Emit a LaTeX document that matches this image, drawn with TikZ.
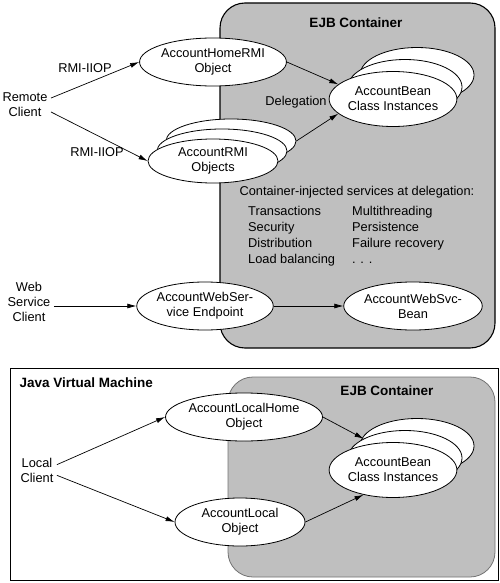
\documentclass[tikz,border=0pt]{standalone}
\usepackage{fontspec}
\setmainfont{Liberation Sans}
\usetikzlibrary{shapes.geometric, arrows.meta, positioning}

\begin{document}
\begin{tikzpicture}[x=1pt, y=-1pt, font=\fontsize{12.8}{15}\selectfont,
          objell/.style={ellipse, draw=black, thick, fill=white, minimum width=130pt, minimum height=48pt, inner sep=0pt, align=center},
          beanell/.style={objell, minimum width=114pt, minimum height=55pt},
          container/.style={draw=black, line width=1.1pt, fill=black!25, rounded corners=25pt},
          arrow/.style={-{Latex[length=9pt,width=5pt]}, line width=0.7pt, color=black}]

        \useasboundingbox (0,0) rectangle (500,583);

        % remote and web service side
        \draw [container] (220,3) rectangle (495,348);
        \node [font=\fontsize{13.5}{15}\selectfont\bfseries] (ejbtop) at (356,23) {EJB Container};

        \node [align=center] (remote) at (25,105) {Remote\\Client};
        \node [align=center] (webclient) at (29,302) {Web\\Service\\Client};

        \node [objell] (homermi) at (213,62) {AccountHomeRMI\\Object};
        \node [objell, minimum height=44pt] (rmic) at (231,141) {};
        \node [objell, minimum height=44pt] (rmib) at (222,151) {};
        \node [objell, minimum height=44pt] (rmi) at (213,161) {AccountRMI\\Objects};

        \node [beanell] (beanc) at (417,75) {};
        \node [beanell] (beanb) at (405,87) {};
        \node [beanell] (bean) at (393,99) {AccountBean\\Class Instances};

        \node (rmilblA) at (85,68) {RMI-IIOP};
        \node (rmilblB) at (97,152) {RMI-IIOP};
        \node (deleg) at (296,102) {Delegation};

        \node [anchor=west] (services) at (236,192) {Container-injected services at delegation:};
        \node [anchor=north west, inner sep=0pt] (servlist) at (248,204) {%
          \renewcommand{\arraystretch}{1.06}%
          \begin{tabular}{@{}p{104pt}@{}l@{}}
            Transactions & Multithreading\\
            Security & Persistence\\
            Distribution & Failure recovery\\
            Load balancing & . . .
          \end{tabular}};

        \node [objell] (endpoint) at (205,306) {AccountWebSer-\\vice Endpoint};
        \node [objell, minimum width=120pt] (svcbean) at (413,306) {AccountWebSvc-\\Bean};

        \draw [arrow] (remote.15) -- (homermi.west);
        \draw [arrow] (remote.-15) -- (rmi.west);
        \draw [arrow] (homermi.east) -- (bean.165);
        \draw [arrow] (rmic.east) -- (bean.195);
        \draw [arrow] (webclient.east |- endpoint) -- (endpoint.west);
        \draw [arrow] (endpoint) -- (svcbean);

        % local side
        \draw [line width=0.9pt] (10,368) rectangle (498,580);
        \node [font=\fontsize{13.5}{15}\selectfont\bfseries, anchor=west] (jvm) at (16,383) {Java Virtual Machine};
        \draw [container, draw=black!55, line width=0.8pt] (228,377) rectangle (495,577);
        \node [font=\fontsize{13.5}{15}\selectfont\bfseries] (ejbbot) at (387,391) {EJB Container};

        \node [align=center] (local) at (37,470) {Local\\Client};
        \node [objell, minimum width=128pt] (localhome) at (244,417) {AccountLocalHome\\Object};
        \node [objell] (localobj) at (240,522) {AccountLocal\\Object};

        \node [beanell] (beanlc) at (417,446) {};
        \node [beanell] (beanlb) at (405,458) {};
        \node [beanell] (beanl) at (393,470) {AccountBean\\Class Instances};

        \draw [arrow] (local.15) -- (localhome.west);
        \draw [arrow] (local.-15) -- (localobj.west);
        \draw [arrow] (localhome.east) -- (beanlb.155);
        \draw [arrow] (localobj.east) -- (beanl.220);
\end{tikzpicture}
\end{document}
